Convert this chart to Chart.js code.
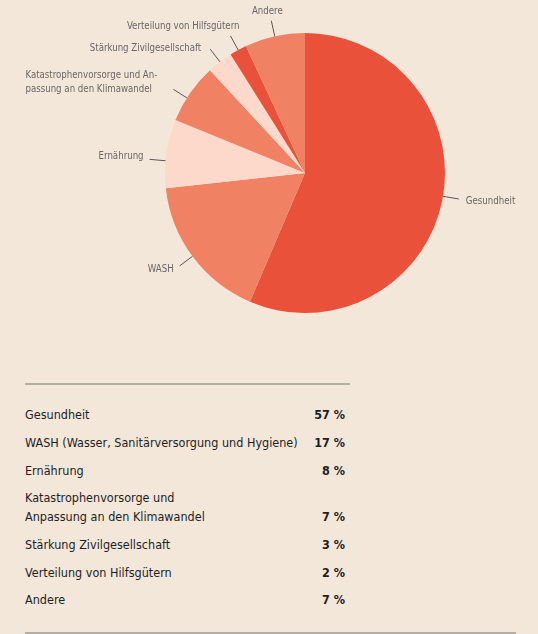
<!DOCTYPE html>
<html>
<head>
<meta charset="utf-8">
<script src="https://cdn.jsdelivr.net/npm/chart.js@4.4.0/dist/chart.umd.min.js"></script>
<style>
  body { margin:0; background:#F3E7DA; font-family:"DejaVu Sans Condensed",sans-serif; }
  #wrap { position:relative; width:538px; height:634px; overflow:hidden; }
  #chartBox { position:absolute; left:0; top:0; width:538px; height:340px; }
  #topLine { position:absolute; left:25px; top:383px; width:325px; height:2px; background:#b3aea8; }
  #bottomLine { position:absolute; left:25px; top:632px; width:491px; height:2px; background:#b3aea8; }
  table { position:absolute; left:25px; top:401px; width:320px; border-collapse:collapse; font-size:12.5px; color:#1e1e1e; }
  td { padding:4.35px 0; line-height:19px; vertical-align:bottom; }
  td.l { white-space:nowrap; }
  td.v { text-align:right; font-weight:bold; white-space:nowrap; }
</style>
</head>
<body>
<div id="wrap">
  <div id="chartBox"><canvas id="mychart"></canvas></div>
  <div id="topLine"></div>
  <table id="tbl"></table>
  <div id="bottomLine"></div>
</div>
<script>
// slice data
var categories = ["Gesundheit","WASH","Ernährung","Katastrophenvorsorge und Anpassung an den Klimawandel","Stärkung Zivilgesellschaft","Verteilung von Hilfsgütern","Andere"]
var values = [57,17,8,7,3,2,7]
// labels next to the pie (lines)
var pieLabels = [["Gesundheit"],["WASH"],["Ernährung"],["Katastrophenvorsorge und An-","passung an den Klimawandel"],["Stärkung Zivilgesellschaft"],["Verteilung von Hilfsgütern"],["Andere"]]
// labels for the table below
var tableLabels = ["Gesundheit","WASH (Wasser, Sanitärversorgung und Hygiene)","Ernährung","Katastrophenvorsorge und<br>Anpassung an den Klimawandel","Stärkung Zivilgesellschaft","Verteilung von Hilfsgütern","Andere"]

var colors = ["#E9513A","#F08163","#FDD9CB","#F08163","#FDD9CB","#E9513A","#F08163"]
// where each label sits relative to the end of its leader line (da = angle nudge in degrees)
var place = [
  {align:"left", dx:7, dy:2.5, da:-2},
  {align:"right", dx:-6, dy:4, da:0},
  {align:"right", dx:-6, dy:-3, da:-3},
  {align:"block", dx:-16, dy:-7, da:-2.3},
  {align:"right", dx:-9, dy:-1, da:0},
  {align:"right", dx:9, dy:-9, da:0},
  {align:"center", dx:-4, dy:-9, da:0}
]

// table
var html = ""
for (let i = 0; i < tableLabels.length; i++) {
  html += "<tr><td class='l'>" + tableLabels[i] + "</td><td class='v'>" + values[i] + " %</td></tr>"
}
document.getElementById("tbl").innerHTML = html

var labelPlugin = {
  id: "pieLabels",
  afterDraw: function(chart){
    var ctx = chart.ctx
    var meta = chart.getDatasetMeta(0)
    ctx.save()
    ctx.font = '9.6px "DejaVu Sans Condensed",sans-serif'
    ctx.fillStyle = "#6a6664"
    ctx.strokeStyle = "#5a5654"
    ctx.lineWidth = 1
    ctx.textBaseline = "middle"
    meta.data.forEach(function(arc, i){
      var p = arc.getProps(["x","y","startAngle","endAngle","outerRadius"], true)
      var pl = place[i]
      var mid = (p.startAngle + p.endAngle) / 2 + pl.da * Math.PI / 180
      var x1 = p.x + Math.cos(mid) * p.outerRadius
      var y1 = p.y + Math.sin(mid) * p.outerRadius
      var x2 = p.x + Math.cos(mid) * (p.outerRadius + 16)
      var y2 = p.y + Math.sin(mid) * (p.outerRadius + 16)
      ctx.beginPath()
      ctx.moveTo(x1, y1)
      ctx.lineTo(x2, y2)
      ctx.stroke()
      var lines = pieLabels[i]
      var tx = x2 + pl.dx, ty = y2 + pl.dy
      if (pl.align == "block") {
        var w = 0
        lines.forEach(function(t){ w = Math.max(w, ctx.measureText(t).width) })
        ctx.textAlign = "left"
        lines.forEach(function(t, k){
          ctx.fillText(t, tx - w, ty + (k - (lines.length - 1) / 2) * 14)
        })
      } else {
        ctx.textAlign = pl.align
        ctx.fillText(lines[0], tx, ty)
      }
    })
    ctx.restore()
  }
}

var mychart = document.getElementById("mychart").getContext('2d')
var chart = new Chart(mychart,{
  type:'pie',
  data:{
    labels:categories,
    datasets:[{
      data:values,
      backgroundColor:colors,
      borderWidth:0
    }]
  },
  options:{
    responsive:true,
    maintainAspectRatio:false,
    animation:false,
    layout:{padding:{top:33,bottom:27,left:165,right:93}},
    plugins:{legend:{display:false},tooltip:{enabled:false}}
  },
  plugins:[labelPlugin]
})
</script>
</body>
</html>
